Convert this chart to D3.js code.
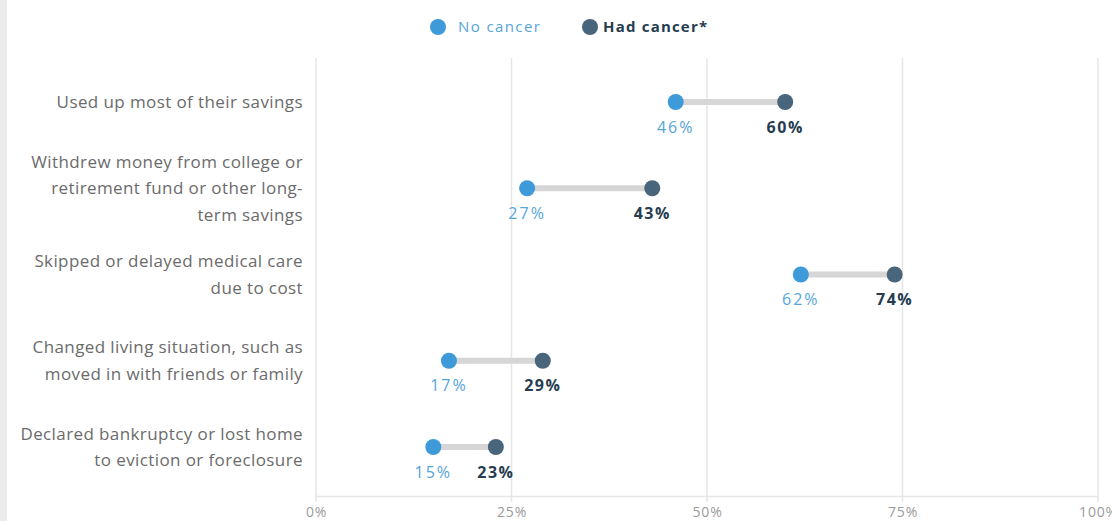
<!DOCTYPE html>
<html>
<head>
<meta charset="utf-8">
<script src="https://cdn.jsdelivr.net/npm/d3@7"></script>
<style>
  body { margin: 0; background: #fff; font-family: "Open Sans", Lato, sans-serif; }
  #chart { position: relative; width: 1112px; height: 521px; overflow: hidden; }
</style>
</head>
<body>
<div id="chart"></div>
<script>
// data
var categories = [
    ["Used up most of their savings"],
    ["Withdrew money from college or", "retirement fund or other long-", "term savings"],
    ["Skipped or delayed medical care", "due to cost"],
    ["Changed living situation, such as", "moved in with friends or family"],
    ["Declared bankruptcy or lost home", "to eviction or foreclosure"]
];
var noCancer = [46, 27, 62, 17, 15];
var hadCancer = [60, 43, 74, 29, 23];
var tickValues = [0, 25, 50, 75, 100];
var seriesNames = ["No cancer", "Had cancer*"];

var width = 1112, height = 521;
var lightBlue = "#3e9ad8", darkBlue = "#48657c";
var font = '"Open Sans", Lato, sans-serif';

var svg = d3.select('#chart').append('svg')
    .attr('width', width)
    .attr('height', height)
    .style('font-family', font);

// left strip
svg.append('rect').attr('x', 0).attr('y', 0).attr('width', 7).attr('height', height).attr('fill', '#ececec');

var x = d3.scaleLinear().domain([0, 100]).range([316, 1098]);
var y = d3.scalePoint().domain(d3.range(categories.length)).range([102, 447]);

// gridlines
svg.selectAll('.grid')
    .data(tickValues)
    .enter()
    .append('line')
    .attr('x1', d => x(d)).attr('x2', d => x(d))
    .attr('y1', 58).attr('y2', 502)
    .attr('stroke', '#e6e6e6')
    .attr('stroke-width', 1.5);

// baseline axis
var axis = d3.axisBottom(x)
    .tickValues(tickValues)
    .tickFormat(d => d + "%")
    .tickSize(0)
    .tickPadding(11);
var gx = svg.append('g').attr('transform', 'translate(0,496)').call(axis);
gx.select('.domain').attr('stroke', '#e6e6e6').attr('stroke-width', 1.5);
gx.selectAll('text')
    .attr('fill', '#9a9a9a')
    .style('font-size', '14px')
    .style('letter-spacing', '0.8px')
    .style('font-family', font);

// category labels
var lineH = 26.5;
var labels = svg.selectAll('.cat')
    .data(categories)
    .enter()
    .append('text')
    .attr('text-anchor', 'end')
    .attr('fill', '#6b6b6b')
    .style('font-size', '17px')
    .style('letter-spacing', '0.4px');
labels.each(function (lines, i) {
    var t = d3.select(this);
    var start = y(i) - (lines.length - 1) * lineH / 2;
    lines.forEach(function (l, j) {
        t.append('tspan')
            .attr('x', 303)
            .attr('y', start + j * lineH)
            .attr('dy', '0.35em')
            .text(l);
    });
});

// connectors
svg.selectAll('.conn')
    .data(categories)
    .enter()
    .append('line')
    .attr('x1', (d, i) => x(noCancer[i]))
    .attr('x2', (d, i) => x(hadCancer[i]))
    .attr('y1', (d, i) => y(i))
    .attr('y2', (d, i) => y(i))
    .attr('stroke', '#d6d6d6')
    .attr('stroke-width', 6);

// dots
svg.selectAll('.dotA')
    .data(noCancer)
    .enter()
    .append('circle')
    .attr('cx', d => x(d))
    .attr('cy', (d, i) => y(i))
    .attr('r', 8)
    .attr('fill', lightBlue);

svg.selectAll('.dotB')
    .data(hadCancer)
    .enter()
    .append('circle')
    .attr('cx', d => x(d))
    .attr('cy', (d, i) => y(i))
    .attr('r', 8)
    .attr('fill', darkBlue);

// value labels
svg.selectAll('.valA')
    .data(noCancer)
    .enter()
    .append('text')
    .attr('x', d => x(d))
    .attr('y', (d, i) => y(i) + 25)
    .attr('dy', '0.35em')
    .attr('text-anchor', 'middle')
    .attr('fill', '#55a5db')
    .style('font-size', '16px')
    .style('letter-spacing', '2px')
    .text(d => d + "%");

svg.selectAll('.valB')
    .data(hadCancer)
    .enter()
    .append('text')
    .attr('x', d => x(d))
    .attr('y', (d, i) => y(i) + 25)
    .attr('dy', '0.35em')
    .attr('text-anchor', 'middle')
    .attr('fill', '#263d4f')
    .style('font-size', '16px')
    .style('letter-spacing', '1.5px')
    .style('font-weight', 'bold')
    .text(d => d + "%");

// legend
var legendX = [438, 590];
var legend = svg.selectAll('.legend')
    .data(seriesNames)
    .enter()
    .append('g')
    .attr('transform', (d, i) => `translate(${legendX[i]}, 27)`);
legend.append('circle')
    .attr('r', 8)
    .attr('fill', (d, i) => i == 0 ? lightBlue : darkBlue);
legend.append('text')
    .attr('x', (d, i) => i == 0 ? 20 : 13)
    .attr('dy', '0.35em')
    .attr('fill', (d, i) => i == 0 ? '#55a5db' : '#263d4f')
    .style('font-weight', (d, i) => i == 0 ? 'normal' : 'bold')
    .style('font-size', '15px')
    .style('letter-spacing', (d, i) => i == 0 ? '1.4px' : '1.2px')
    .text(d => d);
</script>
</body>
</html>
